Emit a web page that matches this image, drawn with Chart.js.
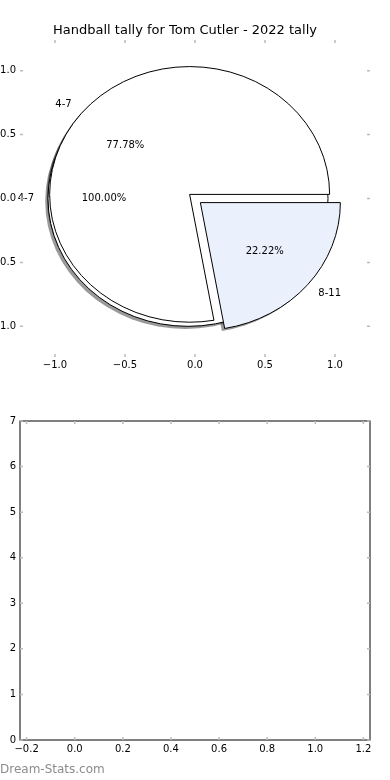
<!DOCTYPE html>
<html>
<head>
<meta charset="utf-8">
<script src="https://cdn.jsdelivr.net/npm/chart.js@4"></script>
<style>
  body { margin: 0; background: #fff; }
  #fig { position: relative; width: 390px; height: 780px; overflow: hidden; }
  .box { position: absolute; left: 0; width: 390px; height: 390px; }
  #mark { position: absolute; left: 0; top: 762px; font: 12px "DejaVu Sans"; color: #8c8c8c; }
</style>
</head>
<body>
<div id="fig">
  <div class="box" style="top:0"><canvas id="pieChart"></canvas></div>
  <div class="box" style="top:390px"><canvas id="emptyChart"></canvas></div>
  <div id="mark">Dream-Stats.com</div>
</div>
<script>
// data
const titleText = "Handball tally for Tom Cutler - 2022 tally";

// first pie: only one group
const pieALabels = ["4-7"];
const pieAValues = [7];
const pieAColors = ["#ffffff"];

// second pie: both groups
const pieBLabels = ["4-7", "8-11"];
const pieBValues = [7, 2];
const pieBColors = ["#ffffff", "#eaf0fc"];

const topTicks = [-1, -0.5, 0, 0.5, 1];
const lowerXTicks = [-0.2, 0, 0.2, 0.4, 0.6, 0.8, 1.0, 1.2];
const lowerYTicks = [0, 1, 2, 3, 4, 5, 6, 7];

Chart.defaults.font.family = "DejaVu Sans";
Chart.defaults.font.size = 10;
Chart.defaults.color = "#000";

const fmt = (v, d) => v.toFixed(d).replace("-", "\u2212");

// inward gray tick marks on all four sides (matplotlib look)
const tickMarks = {
  id: "tickMarks",
  afterDraw(chart, args, opts) {
    const { ctx, chartArea: a, scales: { x, y } } = chart;
    ctx.save();
    if (opts.frame) {
      ctx.strokeStyle = "#000";
      ctx.lineWidth = 1;
      ctx.strokeRect(a.left, a.top, a.right - a.left, a.bottom - a.top);
    }
    ctx.strokeStyle = "#bbb";
    ctx.lineWidth = 1.5;
    const len = 3;
    ctx.beginPath();
    x.ticks.forEach((t) => {
      const px = x.getPixelForValue(t.value);
      ctx.moveTo(px, a.top); ctx.lineTo(px, a.top + len);
      ctx.moveTo(px, a.bottom); ctx.lineTo(px, a.bottom - len);
    });
    y.ticks.forEach((t) => {
      const py = y.getPixelForValue(t.value);
      ctx.moveTo(a.left, py); ctx.lineTo(a.left + len, py);
      ctx.moveTo(a.right, py); ctx.lineTo(a.right - len, py);
    });
    ctx.stroke();
    ctx.restore();
  },
};

function wedgeList(labels, values, colors, explode) {
  const total = values.reduce((a, b) => a + b, 0);
  let t = 0;
  return values.map((v, i) => {
    const t1 = t;
    const t2 = t + (360 * v) / total;
    t = t2;
    const mid = ((t1 + t2) / 2) * Math.PI / 180;
    return {
      t1, t2, mid,
      frac: v / total,
      ox: explode * Math.cos(mid),
      oy: explode * Math.sin(mid),
      label: labels[i],
      color: colors[i],
    };
  });
}

function wedgePath(ctx, cx, cy, rx, ry, t1, t2) {
  ctx.beginPath();
  const full = Math.abs(t2 - t1 - 360) < 1e-9;
  if (!full) ctx.moveTo(cx, cy);
  ctx.ellipse(cx, cy, rx, ry, 0, (-t1 * Math.PI) / 180, (-t2 * Math.PI) / 180, true);
  ctx.closePath();
}

const pies = {
  id: "pies",
  afterDatasetsDraw(chart) {
    const { ctx, scales: { x, y } } = chart;
    const rx = x.getPixelForValue(1) - x.getPixelForValue(0);
    const ry = y.getPixelForValue(0) - y.getPixelForValue(1);
    const all = [
      ...wedgeList(pieALabels, pieAValues, pieAColors, 0.05),
      ...wedgeList(pieBLabels, pieBValues, pieBColors, 0.05),
    ];
    ctx.save();
    // shadows first
    all.forEach((w) => {
      wedgePath(ctx, x.getPixelForValue(w.ox - 0.02), y.getPixelForValue(w.oy - 0.02), rx, ry, w.t1, w.t2);
      ctx.fillStyle = "rgba(0,0,0,0.4)";
      ctx.fill();
    });
    all.forEach((w) => {
      wedgePath(ctx, x.getPixelForValue(w.ox), y.getPixelForValue(w.oy), rx, ry, w.t1, w.t2);
      ctx.fillStyle = w.color;
      ctx.fill();
      ctx.strokeStyle = "#000";
      ctx.lineWidth = 1;
      ctx.stroke();
    });
    ctx.fillStyle = "#000";
    ctx.font = '10px "DejaVu Sans"';
    ctx.textBaseline = "middle";
    all.forEach((w) => {
      const lx = w.ox + 1.1 * Math.cos(w.mid);
      const ly = w.oy + 1.1 * Math.sin(w.mid);
      ctx.textAlign = lx > 0 ? "left" : "right";
      ctx.fillText(w.label, x.getPixelForValue(lx), y.getPixelForValue(ly));
      ctx.textAlign = "center";
      ctx.fillText(
        (w.frac * 100).toFixed(2) + "%",
        x.getPixelForValue(w.ox + 0.6 * Math.cos(w.mid)),
        y.getPixelForValue(w.oy + 0.6 * Math.sin(w.mid))
      );
    });
    ctx.restore();
  },
};

function axis(ticksArr, min, max, digits, size, pad, horizontal) {
  return {
    type: "linear",
    min: min,
    max: max,
    grid: { display: false, drawTicks: false },
    border: { display: false },
    afterBuildTicks: (s) => { s.ticks = ticksArr.map((v) => ({ value: v })); },
    afterFit: (s) => { if (horizontal) s.height = size; else s.width = size; },
    ticks: {
      autoSkip: false,
      maxRotation: 0,
      padding: pad,
      callback: (v) => fmt(v, digits),
    },
  };
}

new Chart(document.getElementById("pieChart"), {
  type: "scatter",
  data: { datasets: [] },
  options: {
    responsive: true,
    maintainAspectRatio: false,
    animation: false,
    devicePixelRatio: 1,
    layout: { autoPadding: false, padding: { left: 0, right: 20, top: 0, bottom: 0 } },
    scales: {
      x: axis(topTicks, -1.25, 1.25, 1, 33, 2, true),
      y: axis(topTicks, -1.24, 1.24, 1, 20, 4, false),
    },
    plugins: {
      legend: { display: false },
      tooltip: { enabled: false },
      title: {
        display: true,
        text: titleText,
        color: "#000",
        font: { size: 13, weight: "normal", lineHeight: 1.2 },
        padding: { top: 22.5, bottom: 1.9 },
      },
      tickMarks: { frame: false },
    },
  },
  plugins: [pies, tickMarks],
});

new Chart(document.getElementById("emptyChart"), {
  type: "scatter",
  data: { datasets: [] },
  options: {
    responsive: true,
    maintainAspectRatio: false,
    animation: false,
    devicePixelRatio: 1,
    layout: { autoPadding: false, padding: { left: 0, right: 20, top: 31, bottom: 0 } },
    scales: {
      x: axis(lowerXTicks, -0.2275, 1.2275, 1, 40, 3, true),
      y: axis(lowerYTicks, 0, 7, 0, 20, 4, false),
    },
    plugins: {
      legend: { display: false },
      tooltip: { enabled: false },
      tickMarks: { frame: true },
    },
  },
  plugins: [tickMarks],
});
</script>
</body>
</html>
